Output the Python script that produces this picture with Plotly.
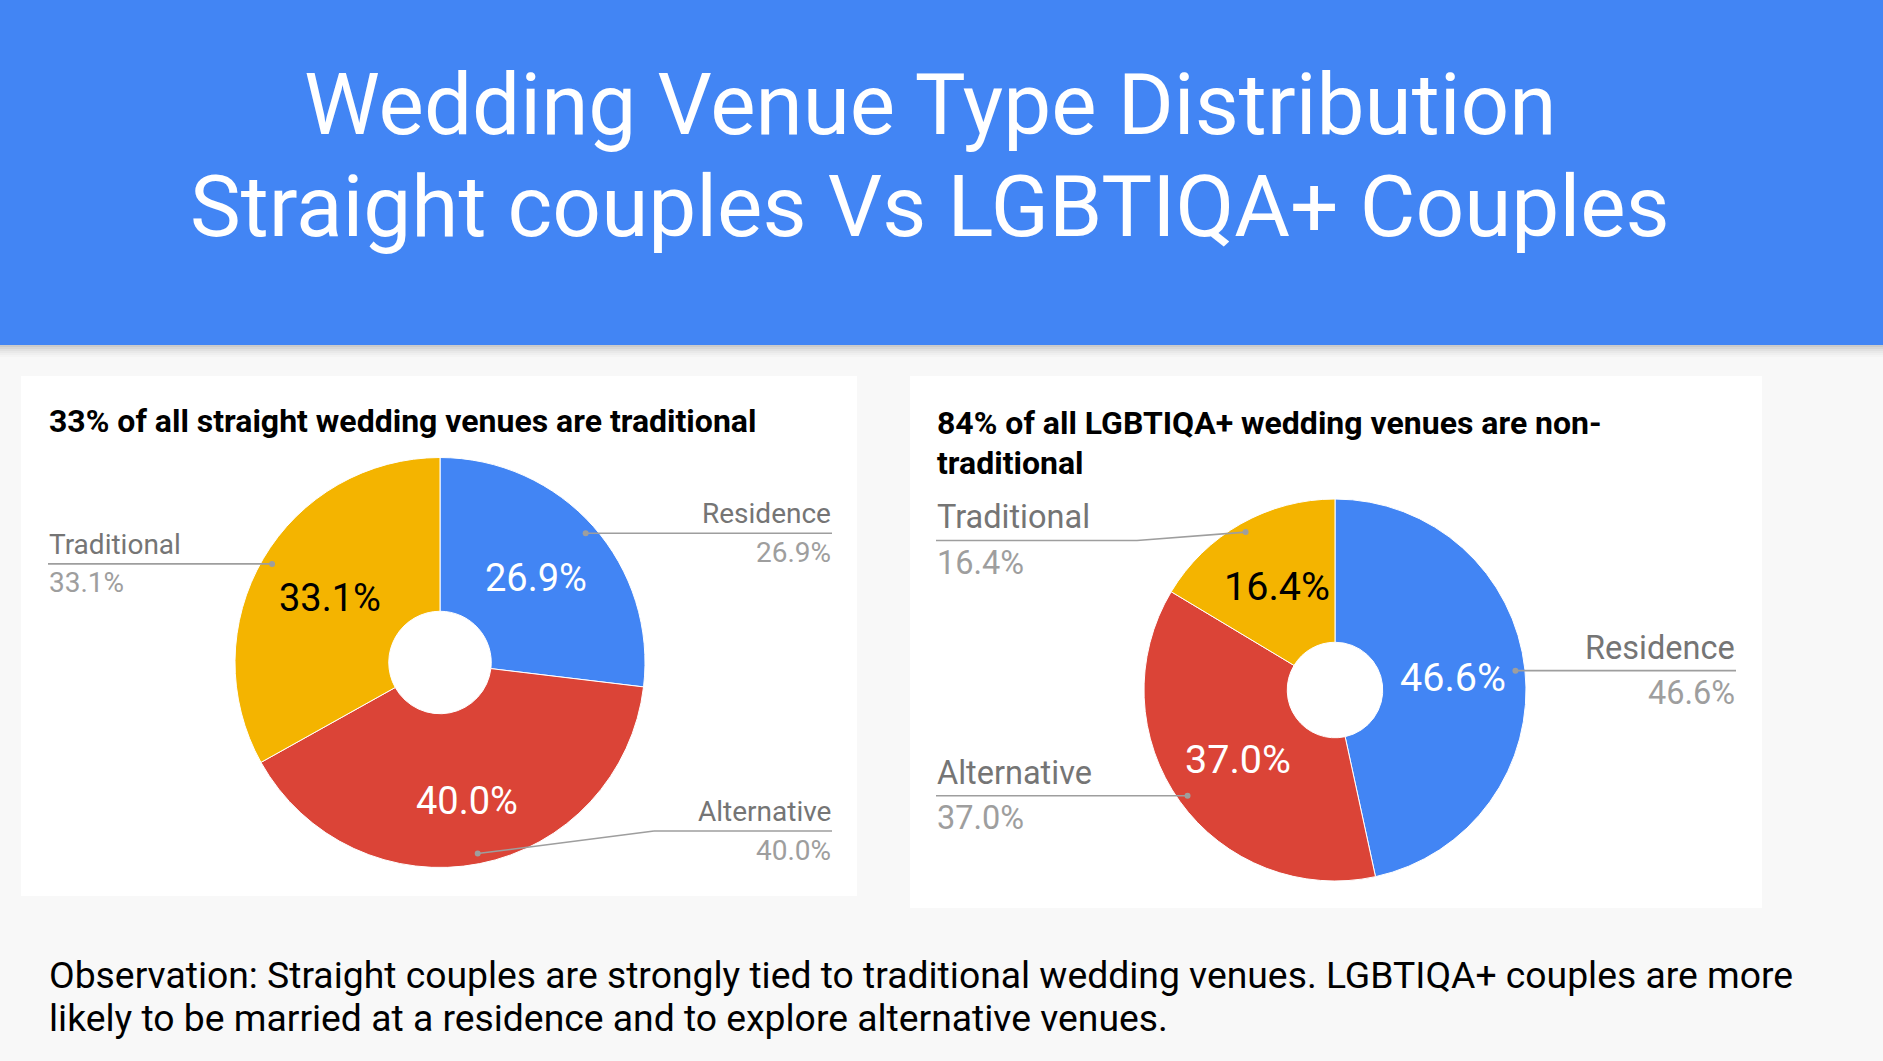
import math
import plotly.graph_objects as go

W, H = 1883, 1061

# ---------------- data ----------------
categories = ["Residence", "Alternative", "Traditional"]
straight_values = [26.9, 40.0, 33.1]
lgbtiqa_values = [46.6, 37.0, 16.4]
slice_colors = ["#4285F4", "#DB4437", "#F4B400"]
inner_text_colors = ["#FFFFFF", "#FFFFFF", "#000000"]

main_title_lines = ["Wedding Venue Type Distribution",
                    "Straight couples Vs LGBTIQA+ Couples"]
left_title_lines = ["33% of all straight wedding venues are traditional"]
right_title_lines = ["84% of all LGBTIQA+ wedding venues are non-", "traditional"]
observation_lines = [
    "Observation: Straight couples are strongly tied to traditional wedding venues. LGBTIQA+ couples are more",
    "likely to be married at a residence and to explore alternative venues.",
]

FONT = "Roboto, Arial, sans-serif"
BG = "#F8F8F8"
HEADER = "#4285F4"
NAME_C = "#757575"
PCT_C = "#9E9E9E"
LINE_C = "#9E9E9E"


def px(x):
    return x / W


def py(y):
    return 1 - y / H


fig = go.Figure()
shapes = []
annotations = []

# header band + shadow
shapes.append(dict(type="rect", xref="paper", yref="paper", x0=0, x1=1,
                   y0=py(345), y1=py(0), fillcolor=HEADER, line_width=0, layer="below"))
for i, op in enumerate([0.28, 0.2, 0.14, 0.09, 0.05, 0.025]):
    shapes.append(dict(type="rect", xref="paper", yref="paper", x0=0, x1=1,
                       y0=py(345 + 2 * (i + 1)), y1=py(345 + 2 * i),
                       fillcolor="#555555", opacity=op, line_width=0, layer="below"))

# cards
for (x0, y0, x1, y1) in [(21, 376, 857, 896), (910, 376, 1762, 908)]:
    shapes.append(dict(type="rect", xref="paper", yref="paper", x0=px(x0), x1=px(x1),
                       y0=py(y1), y1=py(y0), fillcolor="#FFFFFF", line_width=0, layer="below"))


def text_at(x, baseline, text, size, color, anchor="left", bold=False):
    t = f"<b>{text}</b>" if bold else text
    annotations.append(dict(xref="paper", yref="paper", x=px(x), y=py(baseline - 0.34 * size),
                            xanchor=anchor, yanchor="middle", text=t, showarrow=False,
                            borderpad=0, font=dict(family=FONT, size=size, color=color)))


def text_center(x, y, text, size, color):
    annotations.append(dict(xref="paper", yref="paper", x=px(x), y=py(y),
                            xanchor="center", yanchor="middle", text=text, showarrow=False,
                            borderpad=0, font=dict(family=FONT, size=size, color=color)))


# main title
text_at(930, 134, main_title_lines[0], 85.5, "#FFFFFF", anchor="center")
text_at(930, 236, main_title_lines[1], 85.5, "#FFFFFF", anchor="center")

# card titles
text_at(48, 432, left_title_lines[0], 32, "#000000", bold=True)
text_at(936, 434, right_title_lines[0], 32, "#000000", bold=True)
text_at(936, 473.5, right_title_lines[1], 32, "#000000", bold=True)

# observation
text_at(48, 988, observation_lines[0], 37.3, "#000000")
text_at(48, 1031, observation_lines[1], 37.3, "#000000")

# pies
pies = [
    dict(values=straight_values, cx=440, cy=662.5, r=205, fs_in=38, fs_lab=28,
         in_r=[0.623, 0.688, 0.625],
         labels={"Residence": ("right", 832, None, None),
                 "Alternative": ("right", 832, 831, 654),
                 "Traditional": ("left", 48, None, None)}),
    dict(values=lgbtiqa_values, cx=1335, cy=690, r=191, fs_in=39.5, fs_lab=32.5,
         in_r=[0.623, 0.623, 0.62],
         labels={"Residence": ("right", 1736, None, None),
                 "Alternative": ("left", 936, None, None),
                 "Traditional": ("left", 936, 540.5, 1137)}),
]

for p in pies:
    vals = p["values"]
    cx, cy, r = p["cx"], p["cy"], p["r"]
    fig.add_trace(go.Pie(
        labels=categories, values=vals, sort=False, direction="clockwise", rotation=0,
        hole=0.25,
        marker=dict(colors=slice_colors, line=dict(color="#FFFFFF", width=1)),
        textinfo="none", textposition="none",
        domain=dict(x=[px(cx - r), px(cx + r)], y=[py(cy + r), py(cy - r)]),
        showlegend=False, hoverinfo="label+percent",
    ))
    total = sum(vals)
    cum = 0.0
    for k, (cat, v) in enumerate(zip(categories, vals)):
        mid = (cum + v / 2) / total * 2 * math.pi
        cum += v
        pct = f"{v / total * 100:.1f}%"
        # inside label
        rr = p["in_r"][k] * r
        text_center(cx + rr * math.sin(mid), cy - rr * math.cos(mid), pct,
                    p["fs_in"], inner_text_colors[k])
        # leader line + outside label
        dx = cx + 0.95 * r * math.sin(mid)
        dy = cy - 0.95 * r * math.cos(mid)
        side, end_x, line_y, elbow_x = p["labels"][cat]
        ly = dy if line_y is None else line_y
        pts = [(dx, dy)]
        if elbow_x is not None:
            pts.append((elbow_x, ly))
        pts.append((end_x, ly))
        for (ax, ay), (bx, by) in zip(pts[:-1], pts[1:]):
            shapes.append(dict(type="line", xref="paper", yref="paper",
                               x0=px(ax), y0=py(ay), x1=px(bx), y1=py(by),
                               line=dict(color=LINE_C, width=1.6)))
        dr = 3
        shapes.append(dict(type="circle", xref="paper", yref="paper",
                           x0=px(dx - dr), x1=px(dx + dr), y0=py(dy + dr), y1=py(dy - dr),
                           fillcolor=LINE_C, line_width=0))
        fs = p["fs_lab"]
        anchor = "right" if side == "right" else "left"
        text_at(end_x, ly - 0.37 * fs, cat, fs, NAME_C, anchor=anchor)
        text_at(end_x, ly + 1.02 * fs, pct, fs, PCT_C, anchor=anchor)

fig.update_layout(
    width=W, height=H, margin=dict(l=0, r=0, t=0, b=0),
    paper_bgcolor=BG, plot_bgcolor=BG,
    shapes=shapes, annotations=annotations,
    font=dict(family=FONT),
)

fig.write_html(
    "out.html",
    config={"displayModeBar": False},
    post_script="document.body.style.margin='0';document.body.style.padding='0';"
                "document.body.style.overflow='hidden';"
                "document.documentElement.style.overflow='hidden';",
)
